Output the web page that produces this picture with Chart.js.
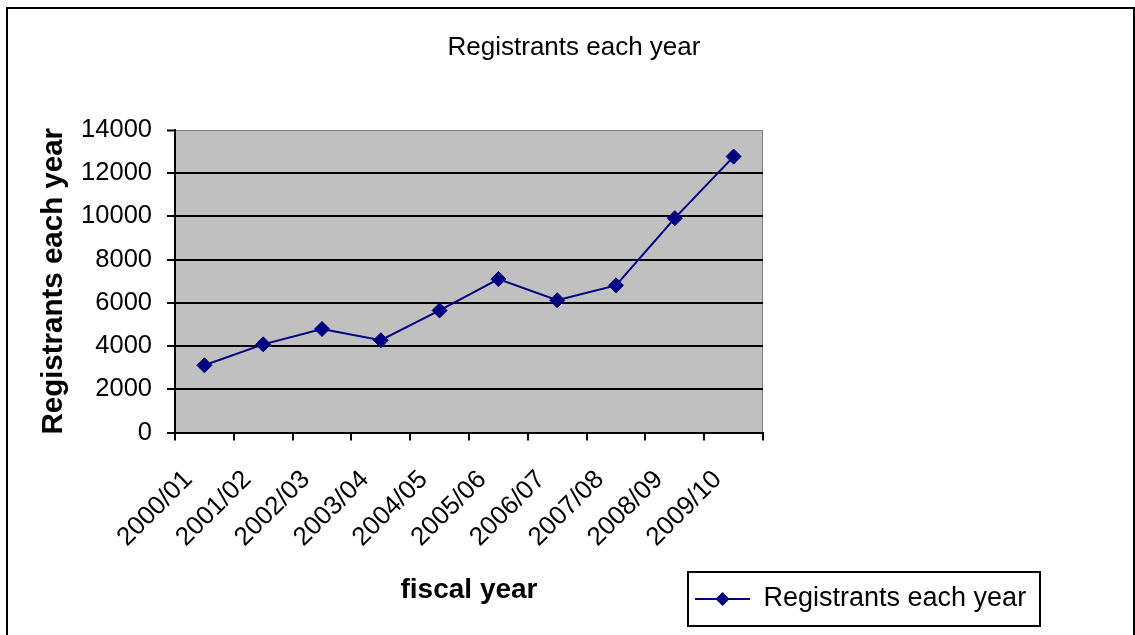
<!DOCTYPE html>
<html>
<head>
<meta charset="utf-8">
<title>Registrants each year</title>
<script src="https://cdn.jsdelivr.net/npm/chart.js@4.4.0/dist/chart.umd.min.js"></script>
<style>
  html, body { margin: 0; padding: 0; background: #fff; }
  #wrap { width: 1135px; height: 635px; }
</style>
</head>
<body>
<div id="wrap"><canvas id="registrantsChart" width="1135" height="635"></canvas></div>
<script>
// Registrants per fiscal year
const fiscalYears = ['2000/01', '2001/02', '2002/03', '2003/04', '2004/05',
                     '2005/06', '2006/07', '2007/08', '2008/09', '2009/10'];
const registrants = [3110, 4080, 4790, 4270, 5650, 7100, 6120, 6810, 9920, 12770];
const yTickValues = [0, 2000, 4000, 6000, 8000, 10000, 12000, 14000];

const seriesName = 'Registrants each year';
const navy = '#000080';
const fontFamily = '"Liberation Sans", Arial, sans-serif';

Chart.defaults.font.family = fontFamily;
Chart.defaults.color = '#000';

// small line + diamond swatch used as the legend symbol
function makeSwatch() {
    const c = document.createElement('canvas');
    c.width = 55;
    c.height = 18;
    const g = c.getContext('2d');
    g.strokeStyle = navy;
    g.lineWidth = 2;
    g.beginPath();
    g.moveTo(0, 9);
    g.lineTo(55, 9);
    g.stroke();
    g.fillStyle = navy;
    g.beginPath();
    g.moveTo(27.5, 2);
    g.lineTo(34.5, 9);
    g.lineTo(27.5, 16);
    g.lineTo(20.5, 9);
    g.closePath();
    g.fill();
    return c;
}
const legendSwatch = makeSwatch();

// legend box sits below the plot, right of the axis title
const legendBox = { left: 688, top: 572, width: 352, height: 54 };

const chartFrame = {
    id: 'chartFrame',
    afterLayout(chart) {
        // centre the title over the whole frame, not just the plot column
        const t = chart.titleBlock;
        if (t) {
            t.left = 14;
            t.right = 1134;
            t.width = t.right - t.left;
        }
        const lg = chart.legend;
        if (lg) {
            lg.left = legendBox.left;
            lg.top = legendBox.top;
            lg.width = legendBox.width;
            lg.height = legendBox.height;
            lg.right = lg.left + lg.width;
            lg.bottom = lg.top + lg.height;
        }
    },
    beforeDraw(chart) {
        const { ctx, chartArea: a } = chart;
        ctx.save();
        ctx.fillStyle = '#fff';
        ctx.fillRect(0, 0, chart.width, chart.height);
        // plot background
        ctx.fillStyle = '#c0c0c0';
        ctx.fillRect(a.left, a.top, a.right - a.left, a.bottom - a.top);
        ctx.strokeStyle = '#808080';
        ctx.lineWidth = 1;
        ctx.beginPath();
        ctx.moveTo(a.left, a.top + 0.5);
        ctx.lineTo(a.right - 0.5, a.top + 0.5);
        ctx.lineTo(a.right - 0.5, a.bottom);
        ctx.stroke();
        // outer frame
        ctx.strokeStyle = '#000';
        ctx.lineWidth = 2;
        ctx.strokeRect(7, 8, 1127, 700);
        ctx.restore();
    },
    afterDraw(chart) {
        const ctx = chart.ctx;
        ctx.save();
        ctx.strokeStyle = '#000';
        ctx.lineWidth = 2;
        ctx.strokeRect(legendBox.left, legendBox.top, legendBox.width, legendBox.height);
        ctx.restore();
    }
};

const ctx = document.getElementById('registrantsChart').getContext('2d');
const registrantsChart = new Chart(ctx, {
    type: 'line',
    data: {
        labels: fiscalYears,
        datasets: [{
            label: seriesName,
            data: registrants,
            borderColor: navy,
            backgroundColor: navy,
            borderWidth: 2,
            tension: 0,
            fill: false,
            pointStyle: 'rectRot',
            pointRadius: 7.5,
            pointBorderWidth: 1,
            pointBackgroundColor: navy,
            pointBorderColor: navy
        }]
    },
    plugins: [chartFrame],
    options: {
        responsive: false,
        animation: false,
        layout: {
            padding: { left: 0, right: 372, top: 0, bottom: 0 }
        },
        plugins: {
            title: {
                display: true,
                text: seriesName,
                font: { size: 26, weight: 'normal' },
                padding: { top: 32, bottom: 66.8 }
            },
            legend: {
                position: 'chartArea',
                labels: {
                    usePointStyle: true,
                    pointStyleWidth: 55,
                    padding: 7,
                    font: { size: 27 },
                    generateLabels(chart) {
                        const items = Chart.defaults.plugins.legend.labels.generateLabels(chart);
                        return items.map(item => Object.assign(item, { pointStyle: legendSwatch }));
                    }
                }
            },
            tooltip: { enabled: false }
        },
        scales: {
            x: {
                type: 'category',
                offset: true,
                afterFit(scale) {
                    scale.height = 635 - 432.5;
                },
                grid: {
                    offset: true,
                    drawOnChartArea: false,
                    color: '#000',
                    lineWidth: 2,
                    tickLength: 8
                },
                border: { color: '#000', width: 2 },
                ticks: {
                    autoSkip: false,
                    minRotation: 45,
                    maxRotation: 45,
                    padding: 24,
                    labelOffset: -16,
                    font: { size: 26 }
                },
                title: {
                    display: true,
                    text: 'fiscal year',
                    font: { size: 28, weight: 'bold' },
                    padding: { top: 0, bottom: 28 }
                }
            },
            y: {
                min: 0,
                max: 14000,
                afterFit(scale) {
                    scale.width = 175;
                },
                afterBuildTicks(scale) {
                    scale.ticks = yTickValues.map(v => ({ value: v }));
                },
                grid: {
                    color: c => (c.tick && c.tick.value === 14000 ? '#808080' : '#000'),
                    lineWidth: c => (c.tick && c.tick.value === 14000 ? 1 : 2),
                    tickColor: '#000',
                    tickWidth: 2,
                    tickLength: 8
                },
                border: { color: '#000', width: 2 },
                ticks: {
                    padding: 15,
                    font: { size: 25.5 },
                    callback: value => String(value)
                },
                title: {
                    display: true,
                    text: seriesName,
                    font: { size: 29.5, weight: 'bold' },
                    padding: { top: 36, bottom: 0 }
                }
            }
        }
    }
});
</script>
</body>
</html>
